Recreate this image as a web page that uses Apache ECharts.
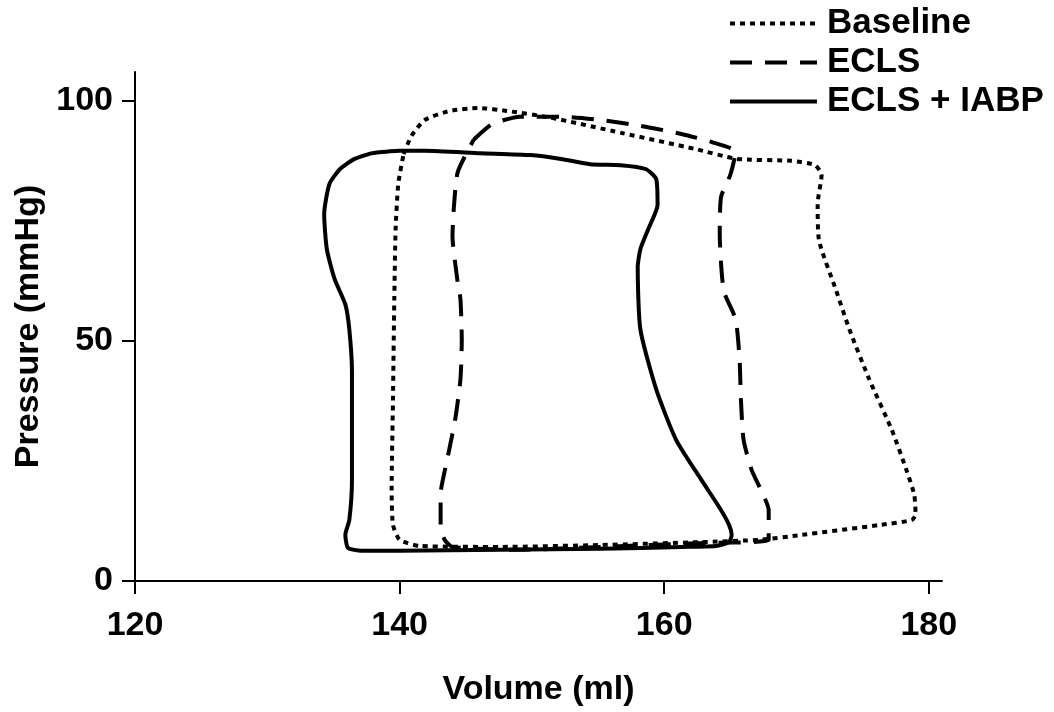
<!DOCTYPE html>
<head>
    <meta charset="utf-8"/>
    <style>
        html,body { height:100%; width:100%; margin:0; padding:0; background:#fff; }
    </style>
</head>
<body>

<div id="loop" style="width:1054px;height:712px;"></div>

<script src="https://cdn.jsdelivr.net/npm/echarts@6/dist/echarts.min.js"></script>
<script type="text/javascript">

 // pressure-volume loops, [volume (ml), pressure (mmHg)]
 var baseline = [
    [140.3, 88.9], [140.9, 92.7], [141.9, 96.0], [143.8, 97.9], [146.0, 98.5],
    [148.1, 97.9], [151.4, 96.5], [156.8, 93.3], [162.3, 90.0], [165.5, 87.9],
    [169.6, 87.5], [171.4, 86.6], [171.9, 84.6], [171.6, 78.5], [171.7, 71.0],
    [173.0, 60.5], [174.0, 52.4], [175.5, 42.0], [177.2, 31.5], [178.3, 23.2],
    [178.9, 18.0], [179.0, 13.8], [178.7, 12.7], [176.4, 11.7], [170.4, 9.6],
    [167.3, 8.6], [162.8, 8.1], [155.2, 7.5], [147.6, 7.1], [141.5, 7.3],
    [140.0, 8.6], [139.5, 11.7], [139.4, 19.0], [139.5, 37.8], [139.6, 58.7],
    [139.7, 73.3], [139.9, 82.7], [140.3, 88.9]
 ];
 var ecls = [
    [145.6, 91.9], [146.9, 95.0], [147.9, 96.0], [149.1, 96.7], [152.2, 96.7],
    [155.2, 96.0], [158.2, 94.8], [161.3, 93.1], [163.6, 91.4], [165.4, 89.4],
    [165.0, 84.6], [164.3, 80.0], [164.2, 72.4], [164.5, 60.5], [165.4, 54.5],
    [165.7, 46.1], [165.8, 37.8], [166.0, 29.4], [166.6, 23.2], [167.3, 19.0],
    [167.9, 14.8], [167.9, 8.6], [162.8, 7.9], [155.2, 7.1], [149.1, 6.5],
    [144.0, 7.1], [143.4, 8.6], [143.1, 11.7], [143.1, 18.0], [143.6, 25.3],
    [144.2, 33.6], [144.6, 42.0], [144.7, 50.3], [144.6, 58.7], [144.4, 62.0],
    [144.0, 71.8], [144.1, 77.7], [144.4, 85.2], [145.6, 91.9]
 ];
 var eclsIabp = [
    [137.9, 89.1], [140.0, 89.6], [141.9, 89.6], [146.1, 89.1], [149.9, 88.7],
    [152.2, 87.9], [154.4, 86.8], [156.7, 86.6], [158.6, 85.8], [159.4, 83.7],
    [159.5, 78.3], [158.8, 73.3], [158.2, 69.1], [158.0, 65.3], [158.2, 52.4],
    [159.4, 39.9], [160.9, 29.4], [162.8, 21.1], [164.2, 15.2], [164.9, 11.7],
    [165.1, 9.6], [164.9, 8.1], [163.9, 7.3], [161.3, 7.1], [155.2, 6.7],
    [147.6, 6.5], [140.0, 6.3], [137.1, 6.3], [136.1, 6.9], [135.9, 9.6],
    [136.2, 12.7], [136.4, 21.1], [136.4, 43.6], [136.2, 52.4], [135.9, 57.6],
    [135.1, 62.8], [134.5, 69.1], [134.3, 76.4], [134.7, 82.7], [135.5, 85.8],
    [136.6, 87.9], [137.9, 89.1]
 ];
 var seriesNames = ['Baseline', 'ECLS', 'ECLS + IABP'];
 var xTicks = [120, 140, 160, 180];
 var yTicks = [0, 50, 100];

 var font = '"Liberation Sans", Arial, Helvetica, sans-serif';

 function axisCommon(ticks) {
    return {
        type: 'value',
        splitLine: { show: false },
        axisLine: { show: true, onZero: false, lineStyle: { color: '#000', width: 2 } },
        axisTick: { show: true, length: 13, lineStyle: { color: '#000', width: 2 }, customValues: ticks },
        axisLabel: { color: '#000', fontSize: 34, fontWeight: 'bold', fontFamily: font, customValues: ticks },
        nameLocation: 'middle',
        nameTextStyle: { color: '#000', fontSize: 34, fontWeight: 'bold', fontFamily: font }
    };
 }

 var xAxis = axisCommon(xTicks);
 xAxis.min = 120;
 xAxis.max = 181;
 xAxis.name = 'Volume (ml)';
 xAxis.nameGap = 92;
 xAxis.axisLabel.margin = 28;

 var yAxis = axisCommon(yTicks);
 yAxis.min = 0;
 yAxis.max = 106;
 yAxis.name = 'Pressure (mmHg)';
 yAxis.nameGap = 79;
 yAxis.axisLabel.margin = 22;

 function loopSeries(name, data, type) {
    return {
        name: name,
        type: 'line',
        data: data,
        symbol: 'none',
        smooth: 0.2,
        silent: true,
        itemStyle: { color: '#000' },
        lineStyle: { color: '#000', width: 4, type: type, cap: 'butt' }
    };
 }

 var option = {
    animation: false,
    backgroundColor: '#fff',
    grid: { left: 135, right: 112, top: 72, bottom: 130 },
    legend: {
        data: seriesNames,
        orient: 'vertical',
        left: 723,
        top: 1,
        itemWidth: 87,
        itemHeight: 14,
        itemGap: 4,
        selectedMode: false,
        itemStyle: { opacity: 0 },
        lineStyle: { width: 'inherit' },
        textStyle: { color: '#000', fontSize: 35, fontWeight: 'bold', fontFamily: font, padding: [0, 0, 0, 5] }
    },
    xAxis: xAxis,
    yAxis: yAxis,
    series: [
        loopSeries(seriesNames[0], baseline, [5, 5]),
        loopSeries(seriesNames[1], ecls, [22, 13]),
        loopSeries(seriesNames[2], eclsIabp, 'solid')
    ]
 };

 var myChart = echarts.init(document.getElementById('loop'));
 myChart.setOption(option);

</script>
</body>
